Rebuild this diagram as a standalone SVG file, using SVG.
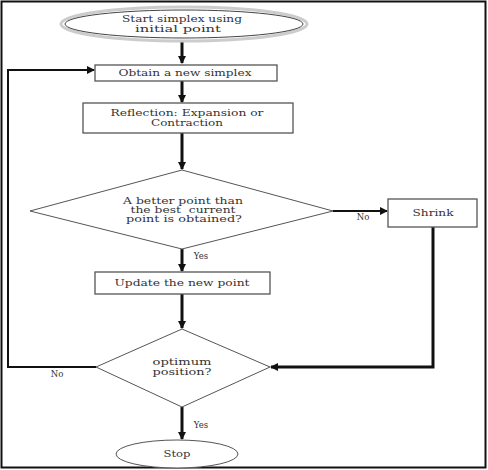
<svg xmlns="http://www.w3.org/2000/svg" width="488" height="470" viewBox="0 0 488 470">
<style>
.t{font-family:"DejaVu Serif","Liberation Serif",serif;font-size:8.5px;fill:#333;text-anchor:middle}
.box{fill:#fff;stroke:#555;stroke-width:1.3}
.dia{fill:#fff;stroke:#555;stroke-width:1}
.thick{fill:none;stroke:#111;stroke-width:3}
.thin{fill:none;stroke:#111;stroke-width:2}
</style>
<defs>
<marker id="ah" markerWidth="8" markerHeight="8" refX="7" refY="4" orient="auto" markerUnits="userSpaceOnUse">
<path d="M0,0 L8,4 L0,8 Z" fill="#111"/>
</marker>
</defs>
<rect x="1.5" y="1.5" width="484" height="466" fill="#fff" stroke="#111" stroke-width="2"/>
<g id="connectors">
<line class="thick" x1="182" y1="40" x2="182" y2="63" marker-end="url(#ah)"/>
<line class="thick" x1="182" y1="81" x2="182" y2="102" marker-end="url(#ah)"/>
<line class="thick" x1="182" y1="133" x2="182" y2="169" marker-end="url(#ah)"/>
<line class="thin" x1="333" y1="211" x2="387" y2="211" marker-end="url(#ah)"/>
<line class="thick" x1="182" y1="249" x2="182" y2="271" marker-end="url(#ah)"/>
<line class="thick" x1="182" y1="294" x2="182" y2="328" marker-end="url(#ah)"/>
<polyline class="thick" points="433,227 433,367 271,367" marker-end="url(#ah)"/>
<polyline class="thin" points="96,367 8,367 8,70 94,70" marker-end="url(#ah)"/>
<line class="thick" x1="182" y1="407" x2="182" y2="439" marker-end="url(#ah)"/>
<text class="t" x="363" y="220">No</text>
<text class="t" x="201" y="259">Yes</text>
<text class="t" x="57" y="377">No</text>
<text class="t" x="201" y="428">Yes</text>
</g>
<g id="start">
<ellipse cx="184" cy="24" rx="123" ry="17" fill="#fff" stroke="#ccc" stroke-width="3"/>
<ellipse cx="184" cy="24" rx="119" ry="14" fill="#fff" stroke="#444" stroke-width="1"/>
<text class="t" x="182" y="22" textLength="120" lengthAdjust="spacingAndGlyphs">Start simplex using</text>
<text class="t" x="178" y="32" textLength="86" lengthAdjust="spacingAndGlyphs">initial point</text>
</g>
<g id="obtain">
<rect class="box" x="95" y="65" width="182" height="16"/>
<text class="t" x="185" y="76" textLength="133" lengthAdjust="spacingAndGlyphs">Obtain a new simplex</text>
</g>
<g id="reflection">
<rect class="box" x="83" y="103" width="210" height="30"/>
<text class="t" x="187" y="116" textLength="153" lengthAdjust="spacingAndGlyphs">Reflection: Expansion or</text>
<text class="t" x="187" y="126" textLength="72" lengthAdjust="spacingAndGlyphs">Contraction</text>
</g>
<g id="better">
<polygon class="dia" points="182,170 333,211 182,249 30,211"/>
<text class="t" x="183" y="204" textLength="120" lengthAdjust="spacingAndGlyphs">A better point than</text>
<text class="t" x="183" y="213" textLength="105" lengthAdjust="spacingAndGlyphs" xml:space="preserve">the best  current</text>
<text class="t" x="184" y="222" textLength="116" lengthAdjust="spacingAndGlyphs">point is obtained?</text>
</g>
<g id="shrink">
<rect class="box" x="388" y="199" width="89" height="28"/>
<text class="t" x="433" y="216" textLength="41" lengthAdjust="spacingAndGlyphs">Shrink</text>
</g>
<g id="update">
<rect class="box" x="95" y="272" width="175" height="22"/>
<text class="t" x="182" y="286" textLength="135" lengthAdjust="spacingAndGlyphs">Update the new point</text>
</g>
<g id="optimum">
<polygon class="dia" points="182,329 270,367 182,407 96,367"/>
<text class="t" x="182" y="365" textLength="59" lengthAdjust="spacingAndGlyphs">optimum</text>
<text class="t" x="182" y="375" textLength="59" lengthAdjust="spacingAndGlyphs">position?</text>
</g>
<g id="stop">
<ellipse cx="177" cy="454" rx="61" ry="14" fill="#fff" stroke="#555" stroke-width="1"/>
<text class="t" x="177" y="457" textLength="27" lengthAdjust="spacingAndGlyphs">Stop</text>
</g>
</svg>
